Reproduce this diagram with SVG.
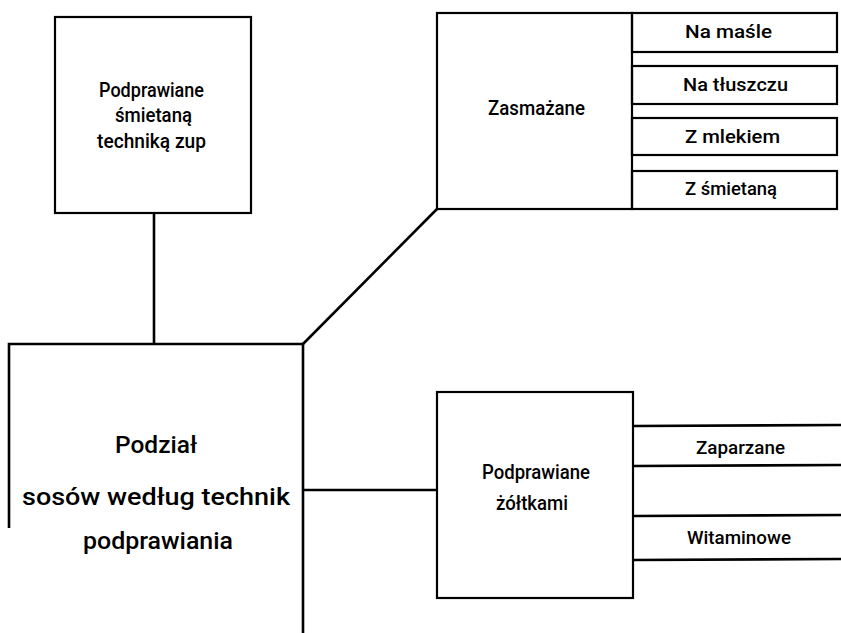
<svg xmlns="http://www.w3.org/2000/svg" width="841" height="633" viewBox="0 0 841 633">
<style>
.box{fill:none;stroke:#000;stroke-width:2.2}
.ln{fill:none;stroke:#000;stroke-width:2.6}
text{font-family:Roboto,"Liberation Sans",sans-serif;font-weight:500;fill:#000}
.m{font-size:21px}
.s{font-size:17.5px}
.l{font-size:24.5px}
</style>
<rect width="841" height="633" fill="#fff"/>
<g id="connectors">
<line class="ln" x1="154" y1="213" x2="154" y2="344"/>
<polyline class="ln" points="303,344 437,209"/>
<line class="ln" x1="303" y1="490" x2="437" y2="490"/>
<line class="ln" x1="633" y1="426" x2="841" y2="425"/>
<line class="ln" x1="633" y1="466" x2="841" y2="465"/>
<line class="ln" x1="633" y1="516" x2="841" y2="515"/>
<line class="ln" x1="633" y1="560" x2="841" y2="559"/>
</g>
<g id="n-smietana-zup">
<rect class="box" x="55" y="17" width="196" height="196"/>
<text class="m" x="99" y="97" textLength="105" lengthAdjust="spacingAndGlyphs">Podprawiane</text>
<text class="m" x="115" y="122" textLength="77" lengthAdjust="spacingAndGlyphs">śmietaną</text>
<text class="m" x="97" y="148" textLength="109" lengthAdjust="spacingAndGlyphs">techniką  zup</text>
</g>
<g id="n-main">
<polyline class="ln" points="9,528 9,344 303,344 303,633"/>
<text class="l" x="115" y="453" textLength="82" lengthAdjust="spacingAndGlyphs">Podział</text>
<text class="l" x="22" y="505" textLength="268" lengthAdjust="spacingAndGlyphs">sosów  według  technik</text>
<text class="l" x="83" y="549" textLength="150" lengthAdjust="spacingAndGlyphs">podprawiania</text>
</g>
<g id="n-zasmazane">
<rect class="box" x="437" y="13" width="195" height="196"/>
<text class="m" x="488" y="115" textLength="97" lengthAdjust="spacingAndGlyphs">Zasmażane</text>
</g>
<g id="n-na-masle">
<rect class="box" x="632" y="13" width="205" height="39"/>
<text class="s" x="685" y="38" textLength="87" lengthAdjust="spacingAndGlyphs">Na  maśle</text>
</g>
<g id="n-na-tluszczu">
<rect class="box" x="632" y="66" width="205" height="38"/>
<text class="s" x="683" y="91" textLength="105" lengthAdjust="spacingAndGlyphs">Na  tłuszczu</text>
</g>
<g id="n-z-mlekiem">
<rect class="box" x="632" y="118" width="205" height="37"/>
<text class="s" x="685" y="143" textLength="95" lengthAdjust="spacingAndGlyphs">Z  mlekiem</text>
</g>
<g id="n-z-smietana">
<rect class="box" x="632" y="171" width="205" height="38"/>
<text class="s" x="685" y="195" textLength="92" lengthAdjust="spacingAndGlyphs">Z  śmietaną</text>
</g>
<g id="n-zoltkami">
<rect class="box" x="437" y="392" width="196" height="206"/>
<text class="m" x="482" y="479" textLength="108" lengthAdjust="spacingAndGlyphs">Podprawiane</text>
<text class="m" x="496" y="510" textLength="72" lengthAdjust="spacingAndGlyphs">żółtkami</text>
</g>
<g id="n-zaparzane">
<text class="s" x="696" y="454" textLength="89" lengthAdjust="spacingAndGlyphs">Zaparzane</text>
</g>
<g id="n-witaminowe">
<text class="s" x="687" y="544" textLength="104" lengthAdjust="spacingAndGlyphs">Witaminowe</text>
</g>
</svg>
